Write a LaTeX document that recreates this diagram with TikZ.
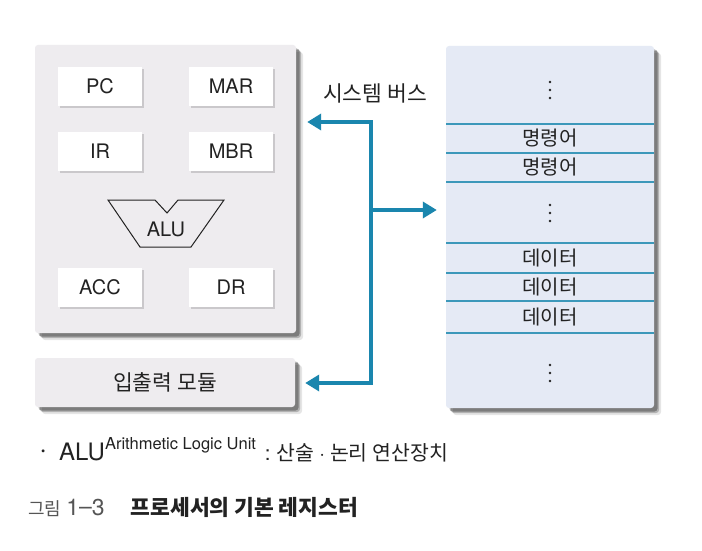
\documentclass[tikz,border=0pt]{standalone}
\usepackage{fontspec}
\setmainfont{TeX Gyre Heros}
\newfontfamily\kr{Noto Sans CJK KR}
\usetikzlibrary{arrows.meta,shadows}
\definecolor{busc}{RGB}{26,134,174}
\definecolor{cpufill}{RGB}{238,236,239}
\definecolor{memfill}{RGB}{229,234,245}
\definecolor{txt}{RGB}{34,34,34}
\definecolor{capgray}{RGB}{85,85,85}
\tikzset{
  bigshadow/.style={drop shadow={shadow xshift=7pt,shadow yshift=-7pt,opacity=.10,fill=black},
                    drop shadow={shadow xshift=5pt,shadow yshift=-5pt,opacity=.22,fill=black},
                    drop shadow={shadow xshift=3.5pt,shadow yshift=-3.5pt,opacity=.30,fill=black}},
  smallshadow/.style={drop shadow={shadow xshift=2pt,shadow yshift=-2pt,opacity=.15,fill=black}},
  panel/.style={rounded corners=3pt,bigshadow,draw=none},
  reg/.style={fill=white,smallshadow,minimum width=84pt,minimum height=39pt,inner sep=0pt,
              text=txt,font=\fontsize{20}{20}\selectfont},
  krtext/.style={text=txt,font=\kr\fontsize{20}{20}\selectfont,inner sep=0pt},
  krbig/.style={text=txt,font=\kr\fontsize{21.5}{21.5}\selectfont,inner sep=0pt},
  bus/.style={draw=busc,line width=3.5pt,arrows={-Triangle[length=14pt,width=16pt]}},
  memline/.style={draw=busc!85,line width=1.2pt},
  dotm/.style={fill=txt,circle,inner sep=0pt,minimum size=2.6pt}
}
\begin{document}
\begin{tikzpicture}[x=1pt,y=-1pt]
\useasboundingbox (0,0) rectangle (702,551);
\fill[white] (0,0) rectangle (702,551);

% CPU panel
\node[panel,fill=cpufill,minimum width=261pt,minimum height=288pt] (cpu) at (165.5,189) {};
\node[reg] (pc)  at (100,86.5)  {PC};
\node[reg] (mar) at (231,86.5)  {MAR};
\node[reg] (ir)  at (100,151)   {IR};
\node[reg] (mbr) at (231,151)   {MBR};
\node[reg] (acc) at (100,287.5) {ACC};
\node[reg] (dr)  at (231,287.5) {DR};
\draw[draw=txt,line width=1pt,line join=miter]
  (108,200) -- (155,200) -- (167,213) -- (178,200) -- (224,200) -- (191,247) -- (140,247) -- cycle;
\node[text=txt,font=\fontsize{20}{20}\selectfont,inner sep=0pt] (alu) at (166,229) {ALU};

% I/O module
\node[panel,fill=cpufill,minimum width=260pt,minimum height=49pt,krbig] (io) at (165,382.5) {입출력 모듈};

% Memory
\node[panel,fill=memfill,minimum width=208pt,minimum height=362pt] (mem) at (550,227) {};
\foreach \yy in {124,153,182,243,273,301,333} \draw[memline] (446,\yy) -- (654,\yy);
\node[krtext] (m1) at (550,138.5) {명령어};
\node[krtext] (m2) at (550,167.5) {명령어};
\node[krtext] (m3) at (550,258) {데이터};
\node[krtext] (m4) at (550,287) {데이터};
\node[krtext] (m5) at (550,317) {데이터};
\foreach \cy in {90,213,373} {
  \node[dotm] at (550,\cy-8) {};
  \node[dotm] at (550,\cy) {};
  \node[dotm] at (550,\cy+8) {};
}

% bus
\coordinate (bt) at (371,122);
\coordinate (bb) at (371,383);
\coordinate (bm) at (371,210);
\coordinate (ct) at (cpu.east |- bt);
\coordinate (cb) at (io.east |- bb);
\draw[bus,arrows={Triangle[length=14pt,width=16pt]-Triangle[length=14pt,width=16pt]},
      shorten <=11pt,shorten >=10pt,line join=miter] (ct) -- (bt) -- (bb) -- (cb);
\draw[bus,shorten >=9pt] (bm) -- (mem.west |- bm);
\node[krbig] (buslabel) at (375,93) {시스템 버스};

% captions
\node[anchor=base west,inner sep=0pt,text=txt] (note) at (41,460)
  {\makebox[18pt][l]{\fontsize{12}{12}\selectfont\raisebox{5pt}{\textbullet}}{\fontsize{24}{24}\selectfont ALU}\raisebox{11pt}{\fontsize{16.5}{16.5}\selectfont Arithmetic Logic Unit}\hspace{9pt}{\fontsize{20.5}{20.5}\selectfont :\hspace{6pt}{\kr 산술}\hspace{5pt}·\hspace{5pt}{\kr 논리 연산장치}}};
\node[anchor=base west,inner sep=0pt] (fig) at (28,515)
  {{\color{capgray}{\kr\fontsize{18}{18}\selectfont 그림}\hspace{5pt}\fontsize{23}{23}\selectfont 1\raisebox{0.5pt}{–}3}\hspace{26pt}{\color{txt}\kr\bfseries\fontsize{21.5}{21.5}\selectfont 프로세서의 기본 레지스터}};
\end{tikzpicture}
\end{document}
